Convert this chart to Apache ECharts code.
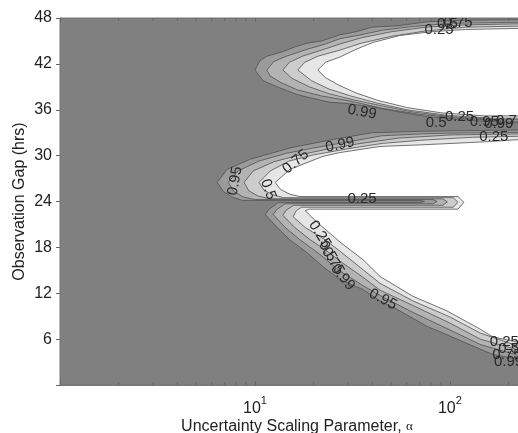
<!DOCTYPE html>
<html>
<head>
<meta charset="utf-8">
<script src="https://cdn.jsdelivr.net/npm/echarts@6/dist/echarts.min.js"></script>
<style>
  html, body { margin: 0; padding: 0; background: #fff; }
  #chart { width: 518px; height: 433px; }
</style>
</head>
<body>
<div id="chart"></div>
<script>
// contour levels, from outermost (darkest band) to innermost (white)
const levels = [0.99, 0.95, 0.75, 0.5, 0.25];
const yTicks = [6, 12, 18, 24, 30, 36, 42, 48];
const minorTicks = [2, 3, 4, 5, 6, 7, 8, 9, 20, 30, 40, 50, 60, 70, 80, 90, 200];

// upper lobe: region where value < level, points are [alpha, hours]
const upper99 = [[10,41.2],[10.6,42.4],[11.5,43.0],[13.9,43.6],[16,44.2],[18.5,44.7],[22,45.0],[27.3,45.8],[33,46.2],[40,46.8],[55,47.0],[76,47.5],[120,47.7],[300,47.8],[300,34.3],[220,34.3],[130,34.6],[76,35.1],[50,35.9],[40,36.4],[30,36.8],[24,37.0],[19,37.6],[16.4,38.0],[13,39.0],[11,39.8]];
const upper95 = [[11.5,41.2],[12.5,42.3],[14.5,43.0],[18.5,43.9],[23,44.6],[27.3,45.3],[35,45.8],[45,46.4],[65,46.9],[100,47.3],[300,47.5],[300,34.5],[200,34.5],[110,34.9],[70,35.4],[45,36.2],[30,37.2],[22,37.8],[16.5,38.6],[13.5,39.6],[12,40.4]];
const upper75 = [[13.9,41.2],[15,42.2],[17.5,43.0],[22,43.8],[27.3,44.6],[35,45.4],[50,46.2],[75,46.8],[120,47.1],[300,47.3],[300,34.7],[180,34.7],[100,35.1],[65,35.7],[45,36.5],[32,37.3],[24,38.1],[19,39.0],[15.5,40.1]];
const upper50 = [[16.6,41.2],[18,42.2],[21,43.0],[27.3,43.8],[35,44.7],[50,45.6],[75,46.3],[120,46.8],[300,47.0],[300,34.9],[160,34.9],[95,35.3],[60,36.0],[42,36.9],[31,37.8],[24,38.7],[19.5,39.8]];
const upper25 = [[21,41.2],[23,42.2],[27.3,42.9],[33,43.9],[40.3,44.8],[55,45.7],[80,46.2],[120,46.5],[300,46.7],[300,35.2],[150,35.2],[90,35.6],[60,36.3],[43,37.2],[33,38.2],[27,39.2],[23,40.2]];

// middle + lower lobes joined beyond the 24 h spike
const main99 = [[6.4,26.5],[7.2,28.2],[9.4,29.5],[12.9,30.5],[15.1,31.0],[25,32.1],[40,33.0],[76,33.2],[300,33.4],
  [300,2.9],[223,3.4],[166,4.0],[143,4.7],[100,6.4],[76,7.7],[53.5,9.9],[43.8,11.0],[35.8,12.5],[27.3,13.8],[22.3,15.5],[18.5,17.3],[15.1,19.0],[13,20.6],[11.3,22.3],
  [11.8,23.0],[13.2,23.85],[70,23.85],[74,24.0],[70,24.15],[8.6,24.15],[7.6,24.6],[6.9,25.3]];
const main95 = [[7.3,26.5],[8.2,28.0],[10.5,29.3],[14.5,30.3],[20,31.0],[30,31.8],[45,32.6],[80,32.9],[300,33.1],
  [300,3.5],[223,3.9],[143,5.3],[100,7.2],[64.6,9.5],[45.3,11.5],[35.8,13.0],[27.3,14.9],[21.5,17.1],[17,19.0],[14.3,20.6],[12.4,22.3],
  [13,23.0],[14.3,23.7],[82,23.7],[86,24.0],[82,24.25],[10,24.25],[8.7,24.6],[7.8,25.3]];
const main75 = [[8.8,26.5],[9.8,28.0],[12.5,29.2],[17,30.1],[24,30.9],[35,31.6],[55,32.3],[100,32.7],[300,32.9],
  [300,4.2],[223,4.6],[143,6.0],[100,8.1],[64.6,10.4],[43.8,12.4],[35.8,14.1],[27.3,16.2],[22.9,17.7],[19.2,19.0],[16,20.6],[13.9,22.2],
  [14.5,22.9],[15.8,23.5],[92,23.5],[97,23.95],[92,24.35],[12,24.35],[10.4,24.7],[9.3,25.4]];
const main50 = [[10.5,26.5],[12,28.0],[15,29.3],[20,30.1],[30,30.9],[45,31.6],[70,32.0],[130,32.4],[300,32.6],
  [300,4.7],[223,5.1],[143,6.8],[100,8.9],[64.6,11.0],[43.8,13.3],[35.8,15.1],[27.3,17.5],[22.9,19.0],[18.1,20.6],[15.7,22.0],
  [16.3,22.8],[17.3,23.25],[104,23.25],[110,23.9],[104,24.5],[14,24.5],[12.3,24.9],[11.1,25.5]];
const main25 = [[12.7,26.5],[15.1,28.2],[22.3,29.9],[27.3,30.4],[43.8,31.2],[70,31.4],[150,31.8],[300,32.3],
  [300,5.2],[223,5.6],[166,6.3],[143,7.3],[96.5,9.7],[64.6,11.6],[43.8,14.2],[35.8,16.4],[27.3,18.7],[20.8,21.3],[18.1,22.8],
  [19,23.0],[110,23.0],[118,23.9],[110,24.65],[17,24.65],[15.1,24.95],[13.5,25.6]];

// contour labels: [alpha, hours, text]
const contourLabels = [
  [35.4, 35.7, '0.99'], [88, 46.4, '0.25'], [97, 47.2, '0.5'], [110, 47.4, '0.75'],
  [85, 34.3, '0.5'], [112, 35.1, '0.25'], [150, 34.4, '0.95'], [178, 34.2, '0.99'], [205, 34.6, '0.75'],
  [168, 32.5, '0.25'],
  [27.3, 31.4, '0.99'], [16.2, 29.2, '0.75'], [7.9, 26.7, '0.95'], [11.7, 25.6, '0.5'], [35.4, 24.3, '0.25'],
  [21.5, 19.7, '0.25'], [23.6, 17.5, '0.5'], [25.1, 16.2, '0.75'], [28.2, 14.1, '0.99'], [45.3, 11.2, '0.95'],
  [190, 5.6, '0.25'], [200, 4.7, '0.5'], [196, 3.9, '0.75'], [200, 3.0, '0.99']
];
const labelAngles = [-10, 0, 0, 0, 0, 0, 0, 0, 0, 0, 12, 40, 80, -70, 0, -58, -58, -58, -50, -28, 0, 0, 0, 0];

const bandColors = ['#9b9b9b', '#b3b3b3', '#cccccc', '#e6e6e6', '#ffffff'];
const upperLobes = [upper99, upper95, upper75, upper50, upper25];
const mainLobes = [main99, main95, main75, main50, main25];
const font = 'Liberation Sans, Arial, sans-serif';

const chart = echarts.init(document.getElementById('chart'));

const fillSeries = levels.map((lv, i) => ({
  type: 'custom',
  name: String(lv),
  clip: true,
  z: 2 + i,
  data: [upperLobes[i][0], mainLobes[i][0]],
  renderItem: (params, api) => {
    const poly = params.dataIndex === 0 ? upperLobes[i] : mainLobes[i];
    return {
      type: 'polygon',
      shape: { points: poly.map(p => api.coord(p)) },
      style: { fill: bandColors[i], stroke: '#505050', lineWidth: 0.8 }
    };
  }
}));

const tickSeries = {
  type: 'custom',
  z: 15,
  clip: false,
  data: minorTicks.map(v => [v, 0]),
  renderItem: (params, api) => {
    const v = api.value(0);
    const top = api.coord([v, 48]);
    const bot = api.coord([v, 0]);
    const st = { stroke: '#666', lineWidth: 1 };
    return {
      type: 'group',
      children: [
        { type: 'line', shape: { x1: top[0], y1: top[1], x2: top[0], y2: top[1] + 3 }, style: st },
        { type: 'line', shape: { x1: bot[0], y1: bot[1], x2: bot[0], y2: bot[1] - 3 }, style: st }
      ]
    };
  }
};

const labelSeries = {
  type: 'custom',
  z: 20,
  clip: true,
  data: contourLabels.map(l => [l[0], l[1]]),
  renderItem: (params, api) => {
    const p = api.coord([api.value(0), api.value(1)]);
    return {
      type: 'text',
      x: p[0],
      y: p[1],
      rotation: labelAngles[params.dataIndex] * Math.PI / 180,
      style: {
        text: contourLabels[params.dataIndex][2],
        fill: '#2a2a2a',
        fontSize: 15,
        fontFamily: font,
        align: 'center',
        verticalAlign: 'middle'
      }
    };
  }
};

const option = {
  animation: false,
  backgroundColor: '#ffffff',
  grid: {
    left: 60, top: 18, width: 474, height: 367,
    outerBoundsMode: 'none', containLabel: false,
    show: true, backgroundColor: '#808080', borderColor: '#777', borderWidth: 1
  },
  xAxis: [{
    type: 'log', logBase: 10, min: 1, max: 270, position: 'bottom',
    axisLine: { show: true, lineStyle: { color: '#777', width: 1 } },
    axisTick: { show: true, inside: true, length: 4, lineStyle: { color: '#666' } },
    splitLine: { show: false },
    axisLabel: {
      margin: 10,
      formatter: v => {
        const e = Math.round(Math.log10(v));
        if (Math.abs(Math.log10(v) - e) > 1e-6 || e < 1) return '';
        return '{b|10}{s|' + e + '}';
      },
      rich: {
        b: { fontSize: 16, color: '#222', fontFamily: font, verticalAlign: 'bottom', lineHeight: 22 },
        s: { fontSize: 11, color: '#222', fontFamily: font, verticalAlign: 'top', lineHeight: 22 }
      }
    },
    name: '{n|Uncertainty Scaling Parameter, }{a|α}',
    nameLocation: 'middle',
    nameMoveOverlap: false,
    nameGap: 34,
    nameTextStyle: {
      rich: {
        n: { fontSize: 16, color: '#222', fontFamily: font },
        a: { fontSize: 13, color: '#222', fontFamily: 'Liberation Serif, serif' }
      }
    }
  }, {
    type: 'log', logBase: 10, min: 1, max: 270, position: 'top',
    axisLine: { show: true, lineStyle: { color: '#777', width: 1 } },
    axisTick: { show: true, inside: true, length: 4, lineStyle: { color: '#666' } },
    axisLabel: { show: false },
    splitLine: { show: false }
  }],
  yAxis: {
    type: 'value', min: 0, max: 48, interval: 6,
    axisLine: { show: true, lineStyle: { color: '#777', width: 1 } },
    axisTick: { show: true, inside: false, length: 4, lineStyle: { color: '#666' } },
    splitLine: { show: false },
    axisLabel: {
      margin: 8, fontSize: 16, color: '#222', fontFamily: font,
      formatter: v => (yTicks.includes(v) ? String(v) : '')
    },
    name: 'Observation Gap (hrs)',
    nameLocation: 'middle',
    nameMoveOverlap: false,
    nameGap: 32,
    nameTextStyle: { fontSize: 16, color: '#222', fontFamily: font }
  },
  series: [...fillSeries, tickSeries, labelSeries]
};

chart.setOption(option);
</script>
</body>
</html>
